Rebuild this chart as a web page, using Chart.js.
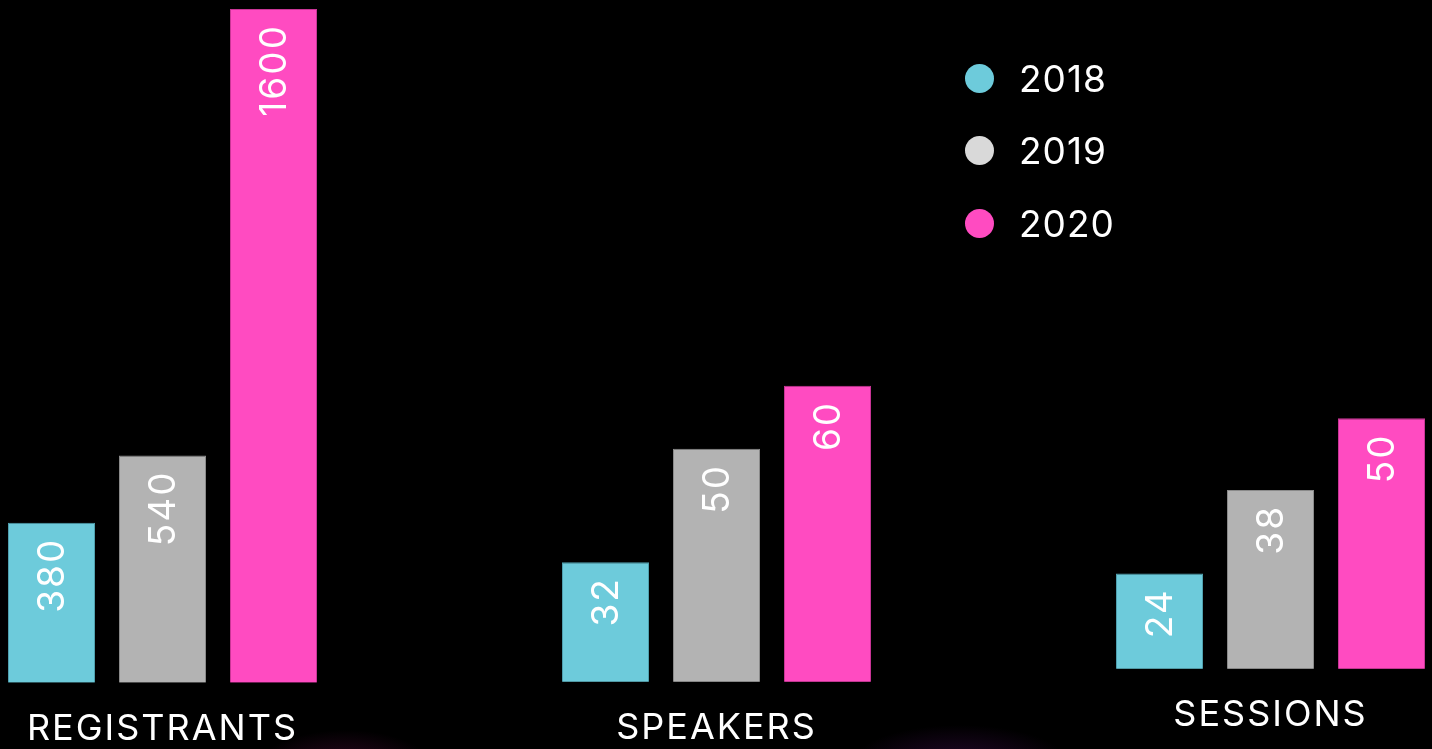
<!DOCTYPE html>
<html>
<head>
<meta charset="utf-8">
<script src="https://cdn.jsdelivr.net/npm/chart.js@4/dist/chart.umd.min.js"></script>
<style>
  html, body {
    margin: 0;
    padding: 0;
    width: 1432px;
    height: 749px;
    overflow: hidden;
    background: #000;
  }
  body {
    position: relative;
    background:
      radial-gradient(ellipse 90px 40px at 345px 770px, rgba(120, 20, 90, 0.4), transparent),
      radial-gradient(ellipse 110px 40px at 960px 765px, rgba(90, 20, 110, 0.4), transparent),
      #000;
  }
  .chart {
    position: absolute;
  }
  #legend {
    position: absolute;
    left: 965px;
    top: 42px;
    font-family: Inter, "Noto Sans", sans-serif;
    font-size: 37px;
    letter-spacing: 1px;
    color: #fff;
  }
  .row {
    display: flex;
    align-items: center;
    height: 72.5px;
  }
  .dot {
    width: 29px;
    height: 29px;
    border-radius: 50%;
    margin-right: 25px;
  }
</style>
</head>
<body>
<canvas id="chart-0" class="chart" width="333" height="769" style="left:-4px;top:0px"></canvas>
<canvas id="chart-1" class="chart" width="333" height="769" style="left:550px;top:-1px"></canvas>
<canvas id="chart-2" class="chart" width="333" height="769" style="left:1104px;top:-14px"></canvas>
<div id="legend"></div>
<script>
const categories = ["REGISTRANTS", "SPEAKERS", "SESSIONS"];
const years = ["2018", "2019", "2020"];
const values2018 = [380, 32, 24];
const values2019 = [540, 50, 38];
const values2020 = [1600, 60, 50];

const CYAN = "#6dcbdb";
const GRAY = "#b3b3b3";
const PINK = "#ff4bc1";
const FONT = "Inter, 'Noto Sans', sans-serif";

const series = [
  { label: years[0], values: values2018, color: CYAN, border: "#4f9fae", dot: CYAN },
  { label: years[1], values: values2019, color: GRAY, border: "#8a8a8a", dot: "#d9d9d9" },
  { label: years[2], values: values2020, color: PINK, border: "#c93596", dot: PINK },
];

// each group has its own hidden scale, like the original slide
const yRanges = [
  { min: 0, max: 1600 },
  { min: 13, max: 120 },
  { min: 8, max: 121 },
];

// the slide font is wide, so space the canvas text out a little
const spacing = {
  id: "spacing",
  beforeDraw(chart) {
    chart.ctx.letterSpacing = "2px";
  },
};

// white rotated numbers at the top of each bar
const barLabels = {
  id: "barLabels",
  afterDatasetsDraw(chart) {
    const { ctx } = chart;
    ctx.save();
    ctx.fillStyle = "#fff";
    ctx.font = `37px ${FONT}`;
    ctx.textAlign = "right";
    ctx.textBaseline = "middle";
    chart.data.datasets.forEach((ds, i) => {
      chart.getDatasetMeta(i).data.forEach((bar, j) => {
        ctx.save();
        ctx.translate(bar.x + 1, bar.y + 15);
        ctx.rotate(-Math.PI / 2);
        ctx.fillText(String(ds.data[j]), 0, 0);
        ctx.restore();
      });
    });
    ctx.restore();
  },
};

categories.forEach((cat, idx) => {
  new Chart(document.getElementById(`chart-${idx}`), {
    type: "bar",
    data: {
      labels: [cat],
      datasets: series.map((s) => ({
        label: s.label,
        data: [s.values[idx]],
        backgroundColor: s.color,
        borderColor: s.border,
        borderWidth: 1,
        categoryPercentage: 1,
        barPercentage: 0.784,
      })),
    },
    options: {
      responsive: false,
      animation: false,
      devicePixelRatio: 1,
      layout: { padding: { top: 9, bottom: 1, left: 0, right: 0 } },
      plugins: {
        legend: { display: false },
        tooltip: { enabled: false },
      },
      scales: {
        x: {
          grid: { display: false },
          border: { display: false },
          ticks: {
            color: "#fff",
            padding: 17,
            font: { family: FONT, size: 36 },
          },
        },
        y: {
          display: false,
          min: yRanges[idx].min,
          max: yRanges[idx].max,
        },
      },
    },
    plugins: [spacing, barLabels],
  });
});

const legend = document.getElementById("legend");
series.forEach((s) => {
  const row = document.createElement("div");
  row.className = "row";
  row.innerHTML = `<div class="dot" style="background:${s.dot}"></div><span>${s.label}</span>`;
  legend.appendChild(row);
});
</script>
</body>
</html>
